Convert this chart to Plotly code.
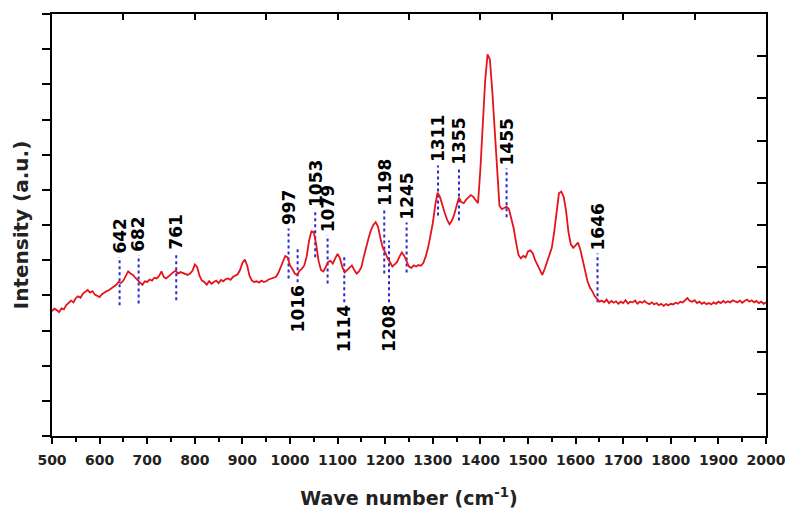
import plotly.graph_objects as go

# Raman spectrum (wave number in cm^-1, intensity in arbitrary units)
wavenumber = [
    500, 505, 510, 515, 520, 525, 530, 535, 540, 545, 550, 555, 560, 565, 570, 575, 580, 585, 590, 595,
    600, 605, 610, 615, 620, 625, 630, 635, 640, 645, 650, 655, 660, 665, 670, 675, 680, 685, 690, 695,
    700, 705, 710, 715, 720, 725, 730, 735, 740, 745, 750, 755, 760, 765, 770, 775, 780, 785, 790, 795,
    800, 805, 810, 815, 820, 825, 830, 835, 840, 845, 850, 855, 860, 865, 870, 875, 880, 885, 890, 895,
    900, 905, 910, 915, 920, 925, 930, 935, 940, 945, 950, 955, 960, 965, 970, 975, 980, 985, 990, 995,
    1000, 1005, 1010, 1015, 1020, 1025, 1030, 1035, 1040, 1045, 1050, 1055, 1060, 1065, 1070, 1075, 1080, 1085, 1090, 1095,
    1100, 1105, 1110, 1115, 1120, 1125, 1130, 1135, 1140, 1145, 1150, 1155, 1160, 1165, 1170, 1175, 1180, 1185, 1190, 1195,
    1200, 1205, 1210, 1215, 1220, 1225, 1230, 1235, 1240, 1245, 1250, 1255, 1260, 1265, 1270, 1275, 1280, 1285, 1290, 1295,
    1300, 1305, 1310, 1315, 1320, 1325, 1330, 1335, 1340, 1345, 1350, 1355, 1360, 1365, 1370, 1375, 1380, 1385, 1390, 1395,
    1400, 1405, 1410, 1415, 1420, 1425, 1430, 1435, 1440, 1445, 1450, 1455, 1460, 1465, 1470, 1475, 1480, 1485, 1490, 1495,
    1500, 1505, 1510, 1515, 1520, 1525, 1530, 1535, 1540, 1545, 1550, 1555, 1560, 1565, 1570, 1575, 1580, 1585, 1590, 1595,
    1600, 1605, 1610, 1615, 1620, 1625, 1630, 1635, 1640, 1645, 1650, 1655, 1660, 1665, 1670, 1675, 1680, 1685, 1690, 1695,
    1700, 1705, 1710, 1715, 1720, 1725, 1730, 1735, 1740, 1745, 1750, 1755, 1760, 1765, 1770, 1775, 1780, 1785, 1790, 1795,
    1800, 1805, 1810, 1815, 1820, 1825, 1830, 1835, 1840, 1845, 1850, 1855, 1860, 1865, 1870, 1875, 1880, 1885, 1890, 1895,
    1900, 1905, 1910, 1915, 1920, 1925, 1930, 1935, 1940, 1945, 1950, 1955, 1960, 1965, 1970, 1975, 1980, 1985, 1990, 1995,
    2000,
]
intensity = [
    3.55, 3.62, 3.58, 3.52, 3.63, 3.60, 3.72, 3.78, 3.85, 3.80, 3.92, 3.97, 3.93, 4.05, 4.10, 4.15, 4.08, 4.12, 4.02, 3.98,
    3.95, 4.03, 4.08, 4.12, 4.15, 4.20, 4.24, 4.30, 4.38, 4.35, 4.42, 4.55, 4.68, 4.62, 4.58, 4.50, 4.42, 4.36, 4.30, 4.40,
    4.38, 4.45, 4.42, 4.50, 4.48, 4.55, 4.68, 4.52, 4.48, 4.55, 4.60, 4.66, 4.70, 4.62, 4.66, 4.64, 4.60, 4.58, 4.62, 4.70,
    4.88, 4.80, 4.55, 4.42, 4.38, 4.30, 4.40, 4.33, 4.38, 4.42, 4.35, 4.44, 4.40, 4.46, 4.48, 4.44, 4.52, 4.55, 4.60, 4.72,
    4.92, 5.02, 4.85, 4.55, 4.42, 4.38, 4.40, 4.36, 4.42, 4.38, 4.40, 4.45, 4.48, 4.50, 4.52, 4.62, 4.80, 4.95, 5.12, 5.08,
    4.85, 4.75, 4.62, 4.58, 4.70, 4.76, 4.85, 5.10, 5.55, 5.82, 5.80, 5.45, 4.98, 4.72, 4.68, 4.80, 4.95, 4.98, 4.90, 5.05,
    5.18, 5.05, 4.80, 4.65, 4.72, 4.80, 4.85, 4.72, 4.62, 4.68, 4.80, 5.10, 5.40, 5.62, 5.85, 6.00, 6.08, 5.95, 5.62, 5.35,
    5.22, 5.05, 4.95, 4.82, 4.88, 4.95, 5.10, 5.22, 5.12, 4.95, 4.82, 4.78, 4.85, 4.82, 4.86, 4.84, 4.92, 5.10, 5.35, 5.70,
    6.05, 6.55, 6.92, 6.80, 6.55, 6.35, 6.15, 6.02, 6.12, 6.30, 6.55, 6.78, 6.65, 6.62, 6.72, 6.78, 6.85, 6.80, 6.70, 6.62,
    7.60, 8.80, 10.10, 10.85, 10.70, 9.80, 8.60, 7.40, 6.55, 6.45, 6.48, 6.52, 6.45, 6.20, 5.90, 5.50, 5.15, 5.05, 5.12, 5.08,
    5.25, 5.28, 5.20, 5.00, 4.85, 4.68, 4.58, 4.75, 4.95, 5.15, 5.35, 5.80, 6.45, 6.90, 6.95, 6.80, 6.40, 5.80, 5.45, 5.35,
    5.42, 5.50, 5.30, 5.00, 4.65, 4.40, 4.22, 4.12, 3.98, 3.90, 3.82, 3.85, 3.80, 3.88, 3.78, 3.84, 3.79, 3.83, 3.76, 3.82,
    3.78, 3.86, 3.77, 3.82, 3.80, 3.85, 3.76, 3.82, 3.79, 3.84, 3.78, 3.75, 3.80, 3.74, 3.78, 3.72, 3.76, 3.70, 3.75, 3.72,
    3.76, 3.74, 3.79, 3.76, 3.82, 3.80, 3.86, 3.92, 3.84, 3.82, 3.86, 3.78, 3.82, 3.76, 3.80, 3.75, 3.78, 3.74, 3.80, 3.76,
    3.82, 3.78, 3.84, 3.79, 3.83, 3.80, 3.86, 3.82, 3.80, 3.85, 3.79, 3.84, 3.88, 3.82, 3.86, 3.80, 3.84, 3.78, 3.82, 3.76,
    3.80,
]

# Peak markers: position, dotted-line extent, label side
peak_labels = ["642", "682", "761", "997", "1016", "1053", "1079", "1114", "1198", "1208",
               "1245", "1311", "1355", "1455", "1646"]
peak_pos = [642, 682, 761, 997, 1016, 1053, 1079, 1114, 1198, 1208, 1245, 1311, 1355, 1455, 1646]
line_low = [3.72, 3.77, 3.86, 4.48, 4.37, 5.08, 4.34, 3.80, 4.62, 3.80, 4.65, 6.27, 6.13, 6.22, 3.80]
line_high = [5.09, 5.14, 5.22, 5.90, 5.34, 6.42, 5.71, 5.08, 6.45, 5.56, 6.07, 7.69, 7.64, 7.61, 5.19]
label_side = ["above", "above", "above", "above", "below", "above", "above", "below", "above", "below",
              "above", "above", "above", "above", "above"]

x_ticks = list(range(500, 2001, 100))

FONT = "DejaVu Sans"
RED = "#e5141c"
BLUE = "#2b2bd0"

fig = go.Figure()

for pos, lo, hi in zip(peak_pos, line_low, line_high):
    fig.add_trace(go.Scatter(
        x=[pos, pos], y=[lo, hi], mode="lines",
        line=dict(color=BLUE, width=2, dash="dot"),
        hoverinfo="skip", showlegend=False,
    ))

fig.add_trace(go.Scatter(
    x=wavenumber, y=intensity, mode="lines",
    line=dict(color=RED, width=1.8),
    showlegend=False,
))

# invisible trace so the top and right axes are drawn
fig.add_trace(go.Scatter(x=[500, 2000], y=[0, 10], xaxis="x2", yaxis="y2", mode="markers",
                         marker=dict(opacity=0), hoverinfo="skip", showlegend=False))

for lab, pos, lo, hi, side in zip(peak_labels, peak_pos, line_low, line_high, label_side):
    if side == "above":
        fig.add_annotation(x=pos, y=hi, text=lab, textangle=-90, showarrow=False,
                           xanchor="center", yanchor="bottom", yshift=1,
                           font=dict(family=FONT, size=17, color="black", weight="bold"))
    else:
        fig.add_annotation(x=pos, y=lo, text=lab, textangle=-90, showarrow=False,
                           xanchor="center", yanchor="top", yshift=-1,
                           font=dict(family=FONT, size=17, color="black", weight="bold"))

fig.update_layout(
    width=785, height=512,
    margin=dict(l=52, r=19, t=14, b=76, autoexpand=False),
    paper_bgcolor="white", plot_bgcolor="white",
    font=dict(family=FONT, color="black"),
    xaxis=dict(
        range=[500, 2000], tickvals=x_ticks, ticktext=[str(v) for v in x_ticks],
        ticks="outside", ticklen=6, tickwidth=2, tickcolor="black",
        minor=dict(dtick=50, tick0=500, ticks="outside", ticklen=4, tickwidth=2, tickcolor="black"),
        showline=True, linewidth=2, linecolor="black", showgrid=False, zeroline=False,
        automargin=False, ticklabeloverflow="allow", ticklabelstandoff=4,
        tickfont=dict(family=FONT, size=14, color="#222", weight="bold"),
        title=dict(text="Wave number (cm<sup>-1</sup>)", standoff=25,
                   font=dict(family=FONT, size=19, color="#222", weight="bold")),
    ),
    xaxis2=dict(
        range=[500, 2000], overlaying="x", side="top", dtick=150, tick0=500,
        ticks="inside", ticklen=6, tickwidth=2, tickcolor="black", showticklabels=False,
        showline=True, linewidth=2, linecolor="black", showgrid=False, zeroline=False,
        automargin=False,
    ),
    yaxis=dict(
        range=[0, 12], dtick=1, tick0=0, ticks="outside", ticklen=8, tickwidth=2, tickcolor="black",
        showticklabels=False, showline=True, linewidth=2, linecolor="black",
        showgrid=False, zeroline=False, automargin=False,
        title=dict(text="Intensity (a.u.)", standoff=8,
                   font=dict(family=FONT, size=20, color="#222", weight="bold")),
    ),
    yaxis2=dict(
        range=[0, 10], overlaying="y", side="right", dtick=1, tick0=0,
        ticks="inside", ticklen=9, tickwidth=2, tickcolor="black", showticklabels=False,
        showline=True, linewidth=2, linecolor="black", showgrid=False, zeroline=False,
        automargin=False,
    ),
)

# remove the default page margin so the 785x512 figure fills the window exactly
fig.write_html(
    "out.html",
    config={"displayModeBar": False},
    post_script="document.body.style.margin='0';document.documentElement.style.overflow='hidden';",
)
